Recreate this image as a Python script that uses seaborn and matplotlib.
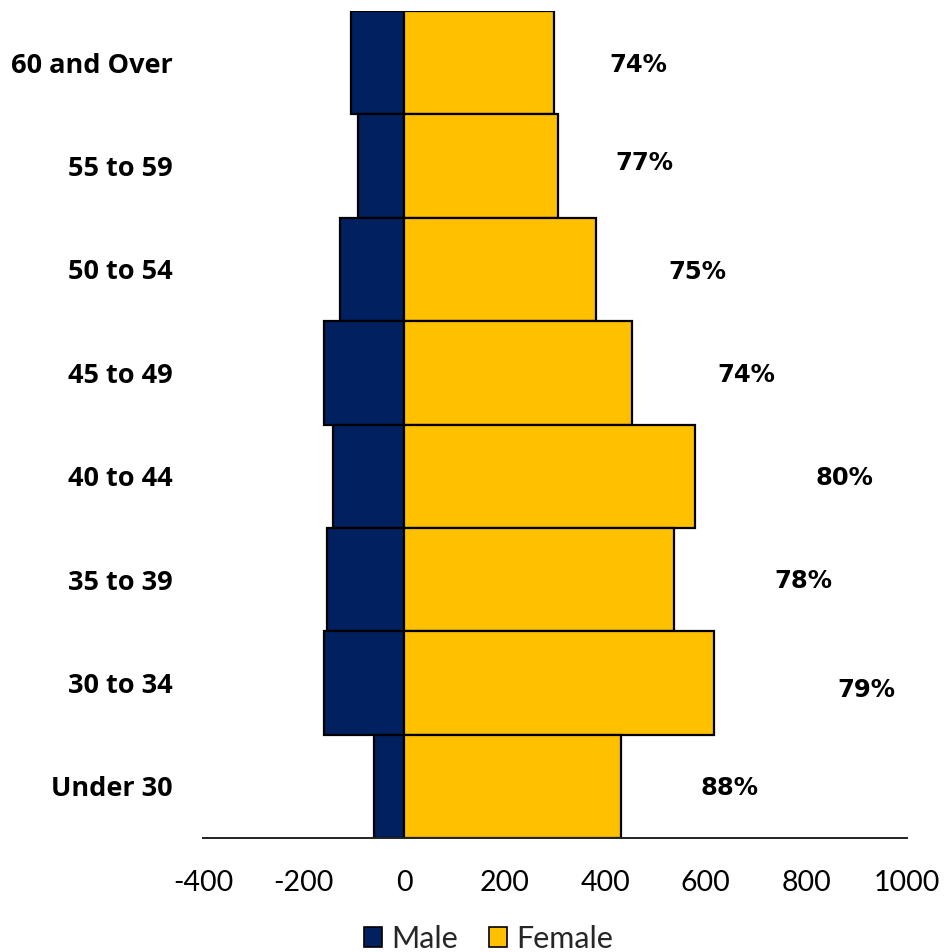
import matplotlib
matplotlib.use("Agg")
import matplotlib.pyplot as plt
import seaborn as sns
import pandas as pd
from matplotlib.patches import Patch

# Age bands, top to bottom
age_groups = ["60 and Over", "55 to 59", "50 to 54", "45 to 49",
              "40 to 44", "35 to 39", "30 to 34", "Under 30"]
male = [-105, -91, -127, -160, -142, -153, -160, -60]
female = [298, 306, 382, 453, 579, 537, 616, 431]

# Horizontal placement of the female-share labels (data units)
share_label_x = [465, 478, 583, 680, 875, 793, 919, 647]
share_label_dy = [0.02, -0.03, 0.02, 0.02, 0.02, 0.01, 0.07, 0.02]

x_ticks = [-400, -200, 0, 200, 400, 600, 800, 1000]

NAVY = "#002060"
GOLD = "#FFC000"

sns.set_theme(style="white")
plt.rcParams["font.family"] = ["Lato", "DejaVu Sans"]

df = pd.DataFrame({
    "age": age_groups * 2,
    "value": male + female,
    "sex": ["Male"] * len(age_groups) + ["Female"] * len(age_groups),
})

fig = plt.figure(figsize=(9.45, 9.52), dpi=100)
ax = fig.add_axes([0.2148, 0.1197, 0.745, 0.8687])

sns.barplot(data=df, x="value", y="age", hue="sex", order=age_groups,
            hue_order=["Male", "Female"], palette=[NAVY, GOLD],
            saturation=1, dodge=False, width=1.0, edgecolor="black",
            linewidth=1.6, orient="h", ax=ax, legend=False)

ax.set_xlim(-400, 1000)
ax.set_ylim(len(age_groups) - 0.5, -0.5)
ax.set_xticks(x_ticks)
ax.set_xticklabels([str(t) for t in x_ticks])
ax.set_xlabel("")
ax.set_ylabel("")

for side in ["top", "right", "left"]:
    ax.spines[side].set_visible(False)
ax.spines["bottom"].set_color("#222222")
ax.spines["bottom"].set_linewidth(1.4)

ax.tick_params(axis="x", length=0, pad=23, labelsize=20.5, labelcolor="black")
ax.tick_params(axis="y", length=0, pad=22, labelcolor="black")
for lbl in ax.get_yticklabels():
    lbl.set_fontweight("bold")
    lbl.set_fontfamily(["Open Sans", "DejaVu Sans"])
    lbl.set_fontsize(19.5)

# Female share of each age band
for i, (m, f) in enumerate(zip(male, female)):
    share = round(100 * f / (f - m))
    ax.text(share_label_x[i], i + share_label_dy[i], f"{share}%",
            ha="center", va="center", fontsize=17.5, fontweight="bold",
            family="DejaVu Sans", color="black")

handles = [Patch(facecolor=NAVY, edgecolor="black", linewidth=1.2, label="Male"),
           Patch(facecolor=GOLD, edgecolor="black", linewidth=1.2, label="Female")]
fig.legend(handles=handles, loc="center", bbox_to_anchor=(0.517, 0.014),
           ncol=2, frameon=False, fontsize=22, handlelength=0.6,
           handleheight=0.6, handletextpad=0.3, columnspacing=1.0)

fig.savefig("out.png", dpi=100)
